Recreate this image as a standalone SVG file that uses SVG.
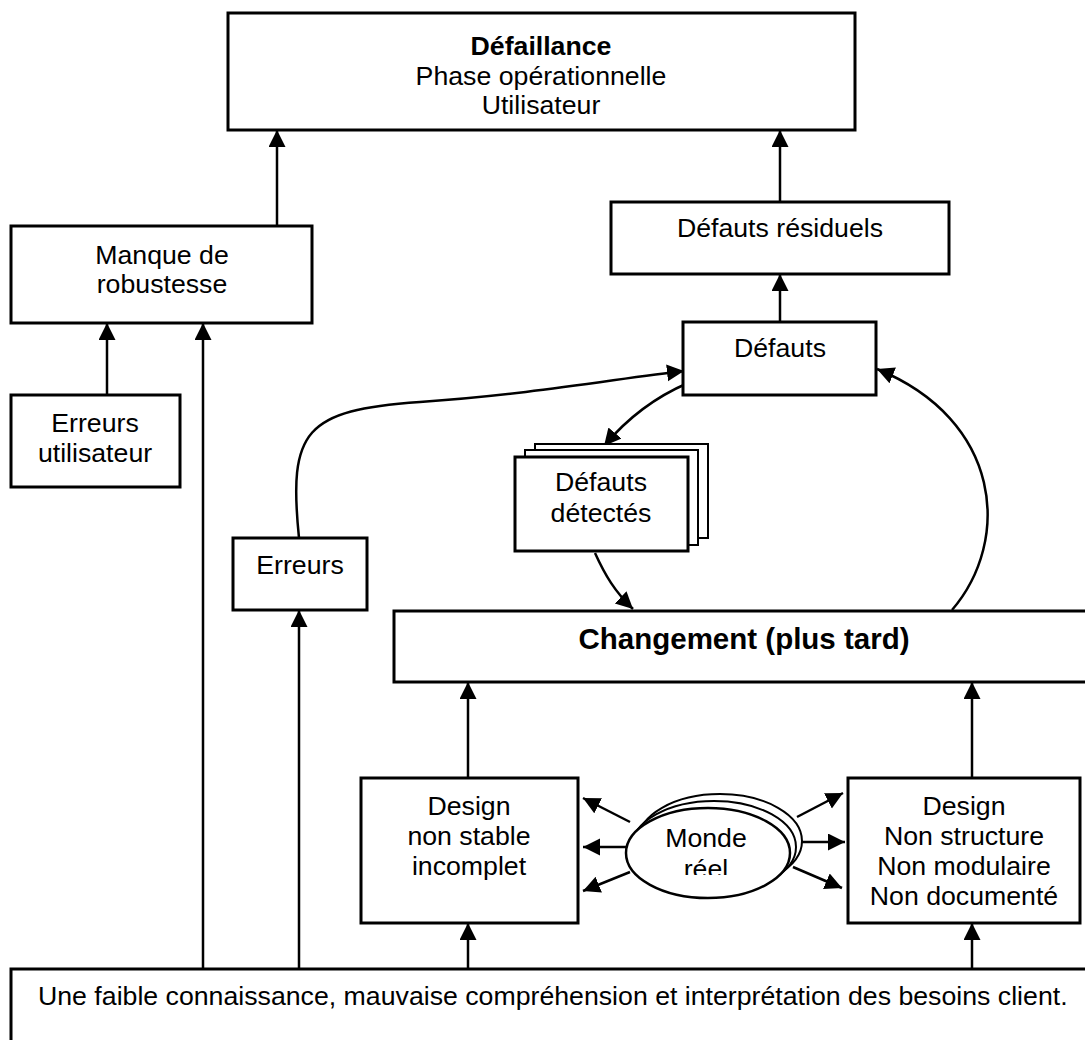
<svg xmlns="http://www.w3.org/2000/svg" width="1085" height="1040" viewBox="0 0 1085 1040">
  <style>
    .box { fill: #fff; stroke: #000; stroke-width: 3; }
    .t { font-family: "Liberation Sans", Arial, sans-serif; font-size: 26.7px; fill: #000; text-anchor: middle; }
    .b { font-weight: bold; }
    .edge { fill: none; stroke: #000; stroke-width: 2.5; marker-end: url(#arrow); }
  </style>
  <defs>
    <marker id="arrow" markerUnits="userSpaceOnUse" markerWidth="18" markerHeight="18" refX="17" refY="8.5" orient="auto">
      <path d="M0,0 L17,8.5 L0,17 z" fill="#000"/>
    </marker>
    <clipPath id="ellClip">
      <rect x="600" y="855" width="220" height="20"/>
    </clipPath>
  </defs>
  <rect width="1085" height="1040" fill="#fff"/>

  <!-- connectors -->
  <g id="connectors">
    <line class="edge" x1="277" y1="226" x2="277" y2="130"/>
    <line class="edge" x1="780" y1="202" x2="780" y2="130"/>
    <line class="edge" x1="780" y1="322" x2="780" y2="274"/>
    <line class="edge" x1="107" y1="395" x2="107" y2="323"/>
    <line class="edge" x1="203" y1="969" x2="203" y2="323"/>
    <line class="edge" x1="299" y1="969" x2="299" y2="610"/>
    <line class="edge" x1="468" y1="969" x2="468" y2="923"/>
    <line class="edge" x1="972" y1="969" x2="972" y2="923"/>
    <line class="edge" x1="468" y1="778" x2="468" y2="682"/>
    <line class="edge" x1="972" y1="778" x2="972" y2="682"/>
    <path class="edge" d="M299,538 C288,430 305,410 420,402 S620,378 684,371"/>
    <path class="edge" d="M688,383 C660,395 630,415 604,446"/>
    <path class="edge" d="M595,553 C605,575 615,592 633,609"/>
    <path class="edge" d="M952,610 C1012,540 1002,420 877,369"/>
    <!-- rays from the ellipse -->
    <line class="edge" x1="630" y1="822" x2="583" y2="798"/>
    <line class="edge" x1="628" y1="847" x2="583" y2="847"/>
    <line class="edge" x1="630" y1="872" x2="583" y2="891"/>
    <line class="edge" x1="797" y1="817" x2="843" y2="793"/>
    <line class="edge" x1="800" y1="842" x2="845" y2="842"/>
    <line class="edge" x1="793" y1="867" x2="842" y2="888"/>
  </g>

  <g id="defaillance">
    <rect class="box" x="228" y="13" width="627" height="117"/>
    <text class="t b" x="541" y="55">Défaillance</text>
    <text class="t" x="541" y="85">Phase opérationnelle</text>
    <text class="t" x="541" y="114">Utilisateur</text>
  </g>

  <g id="manque">
    <rect class="box" x="11" y="226" width="301" height="97"/>
    <text class="t" x="162" y="264">Manque de</text>
    <text class="t" x="162" y="293">robustesse</text>
  </g>

  <g id="erreurs-utilisateur">
    <rect class="box" x="11" y="395" width="169" height="92"/>
    <text class="t" x="95" y="432">Erreurs</text>
    <text class="t" x="95" y="462">utilisateur</text>
  </g>

  <g id="defauts-residuels">
    <rect class="box" x="611" y="202" width="338" height="72"/>
    <text class="t" x="780" y="237">Défauts résiduels</text>
  </g>

  <g id="defauts">
    <rect class="box" x="683" y="322" width="193" height="73"/>
    <text class="t" x="780" y="357">Défauts</text>
  </g>

  <g id="defauts-detectes">
    <rect class="box" x="535" y="444" width="173" height="94" style="stroke-width:2"/>
    <rect class="box" x="525" y="450" width="173" height="95" style="stroke-width:2"/>
    <rect class="box" x="515" y="457" width="173" height="94"/>
    <text class="t" x="601" y="491">Défauts</text>
    <text class="t" x="601" y="522">détectés</text>
  </g>

  <g id="erreurs">
    <rect class="box" x="233" y="538" width="134" height="72"/>
    <text class="t" x="300" y="574">Erreurs</text>
  </g>

  <g id="changement">
    <rect class="box" x="394" y="611" width="700" height="71"/>
    <text class="t b" x="744" y="649" style="font-size:29.5px">Changement (plus tard)</text>
  </g>

  <g id="design-gauche">
    <rect class="box" x="361" y="778" width="217" height="145"/>
    <text class="t" x="469" y="815">Design</text>
    <text class="t" x="469" y="845">non stable</text>
    <text class="t" x="469" y="875">incomplet</text>
  </g>

  <g id="monde-reel">
    <ellipse class="box" cx="720" cy="841" rx="82" ry="47" style="stroke-width:2"/>
    <ellipse class="box" cx="714" cy="847" rx="82" ry="46" style="stroke-width:2"/>
    <ellipse class="box" cx="708" cy="853" rx="82" ry="45" style="stroke-width:2.5"/>
    <text class="t" x="706" y="847">Monde</text>
    <text class="t" x="706" y="878" clip-path="url(#ellClip)">réel</text>
  </g>

  <g id="design-droite">
    <rect class="box" x="848" y="778" width="232" height="145"/>
    <text class="t" x="964" y="815">Design</text>
    <text class="t" x="964" y="845">Non structure</text>
    <text class="t" x="964" y="875">Non modulaire</text>
    <text class="t" x="964" y="905">Non documenté</text>
  </g>

  <g id="besoins-client">
    <rect class="box" x="11" y="969" width="1090" height="100"/>
    <text class="t" x="38" y="1005" style="text-anchor:start">Une faible connaissance, mauvaise compréhension et interprétation des besoins client.</text>
  </g>
</svg>
